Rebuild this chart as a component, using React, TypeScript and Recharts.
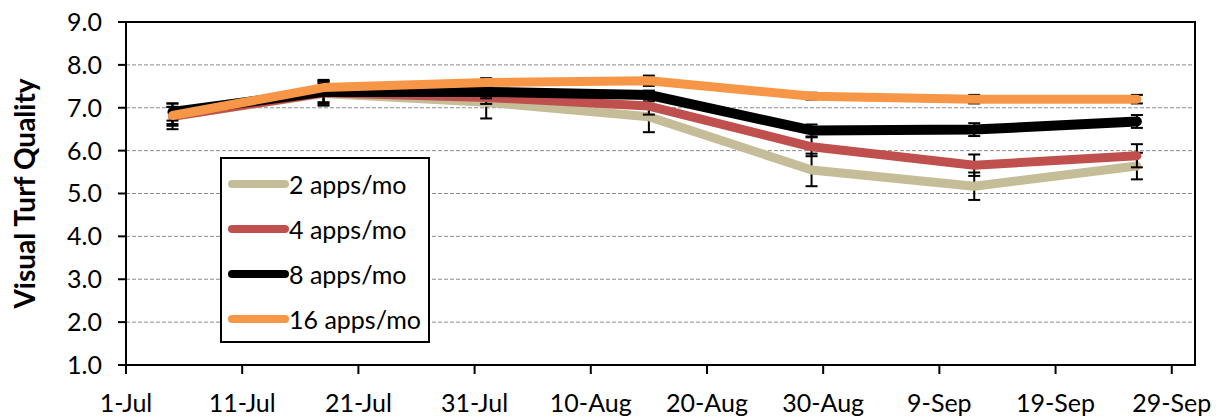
import React from 'react';
import {
  ComposedChart, Line, XAxis, YAxis, CartesianGrid, ErrorBar, Legend, ReferenceArea,
} from 'recharts';

// sampling dates and axis ticks
const dates = ['5-Jul', '18-Jul', '1-Aug', '15-Aug', '29-Aug', '12-Sep', '26-Sep'];
const xTickLabels = ['1-Jul', '11-Jul', '21-Jul', '31-Jul', '10-Aug', '20-Aug', '30-Aug', '9-Sep', '19-Sep', '29-Sep'];
const xEnd = '1-Oct';
const yTicks = [1, 2, 3, 4, 5, 6, 7, 8, 9];

// visual turf quality (mean) and error bar half-widths
const apps2 = [6.8, 7.33, 7.13, 6.79, 5.55, 5.17, 5.64];
const apps2Err = [0.3, 0.28, 0.38, 0.36, 0.38, 0.32, 0.31];
const apps4 = [6.8, 7.35, 7.24, 7.04, 6.09, 5.66, 5.88];
const apps4Err = [0.22, 0.22, 0.15, 0.2, 0.22, 0.25, 0.27];
const apps8 = [6.9, 7.37, 7.37, 7.3, 6.47, 6.49, 6.68];
const apps8Err = [0.2, 0.28, 0.15, 0.1, 0.14, 0.15, 0.15];
const apps16 = [6.82, 7.47, 7.59, 7.63, 7.27, 7.2, 7.2];
const apps16Err = [0.2, 0.15, 0.1, 0.12, 0.08, 0.1, 0.1];

const FONT = 'Lato, "Open Sans", sans-serif';

const monthStart: Record<string, number> = { Jul: 0, Aug: 31, Sep: 62, Oct: 92 };
const toDay = (s: string) => {
  const [d, m] = s.split('-');
  return monthStart[m] + Number(d) - 1;
};

const xTicks = xTickLabels.map(toDay);
const labelByDay: Record<number, string> = {};
xTickLabels.forEach((l) => { labelByDay[toDay(l)] = l; });

const data = dates.map((d, i) => ({
  day: toDay(d),
  a2: apps2[i], e2: apps2Err[i],
  a4: apps4[i], e4: apps4Err[i],
  a8: apps8[i], e8: apps8Err[i],
  a16: apps16[i], e16: apps16Err[i],
}));

const series = [
  { key: 'a2', err: 'e2', name: '2 apps/mo', color: '#C4BD97', width: 9 },
  { key: 'a4', err: 'e4', name: '4 apps/mo', color: '#C0504D', width: 9 },
  { key: 'a8', err: 'e8', name: '8 apps/mo', color: '#000000', width: 10 },
  { key: 'a16', err: 'e16', name: '16 apps/mo', color: '#F79646', width: 9 },
];

const LegendBox = () => (
  <div style={{ width: 206, height: 180, border: '2px solid #000', background: '#fff', paddingTop: 2 }}>
    {series.map((s) => (
      <div key={s.key} style={{ height: 45, display: 'flex', alignItems: 'center' }}>
        <svg width={67} height={14} style={{ flex: 'none' }}>
          <line x1={10} y1={7} x2={63} y2={7} stroke={s.color} strokeWidth={8} strokeLinecap="round" />
        </svg>
        <span style={{ fontFamily: FONT, fontSize: 25, color: '#000', whiteSpace: 'nowrap' }}>{s.name}</span>
      </div>
    ))}
  </div>
);

export default function App() {
  return (
    <div style={{ position: 'absolute', left: 0, top: 0, background: '#fff' }}>
      <ComposedChart width={1225} height={417} data={data} margin={{ top: 22, right: 30, bottom: 0, left: 0 }}>
        <CartesianGrid vertical={false} stroke="#8c8c8c" strokeDasharray="4 2" />
        <ReferenceArea x1={0} x2={toDay(xEnd)} y1={1} y2={9} fill="none" stroke="#000" strokeWidth={2} ifOverflow="visible" />
        <XAxis
          dataKey="day"
          type="number"
          domain={[0, toDay(xEnd)]}
          ticks={xTicks}
          tickFormatter={(v: number) => labelByDay[v] ?? ''}
          height={52}
          interval={0}
          tickSize={9}
          tickMargin={20}
          axisLine={{ stroke: '#000', strokeWidth: 2 }}
          tickLine={{ stroke: '#000', strokeWidth: 2 }}
          tick={{ fill: '#000', fontSize: 25, fontFamily: FONT }}
        />
        <YAxis
          domain={[1, 9]}
          ticks={yTicks}
          width={126}
          interval={0}
          tickSize={8}
          tickMargin={16}
          tickFormatter={(v: number) => v.toFixed(1)}
          axisLine={{ stroke: '#000', strokeWidth: 2 }}
          tickLine={{ stroke: '#000', strokeWidth: 2 }}
          tick={{ fill: '#000', fontSize: 25, fontFamily: FONT }}
          label={{
            value: 'Visual Turf Quality', angle: -90, position: 'center', dx: -38,
            style: { fontFamily: FONT, fontSize: 28, fontWeight: 700, fill: '#000' },
          }}
        />
        <Legend
          layout="vertical"
          align="center"
          verticalAlign="middle"
          content={() => <LegendBox />}
          wrapperStyle={{ left: 220, top: 157, width: 210, height: 184 }}
        />
        {series.map((s) => (
          <Line
            key={s.key}
            dataKey={s.key}
            name={s.name}
            type="linear"
            stroke={s.color}
            strokeWidth={s.width}
            strokeLinecap="round"
            strokeLinejoin="round"
            dot={false}
            activeDot={false}
            isAnimationActive={false}
          >
            <ErrorBar dataKey={s.err} direction="y" width={6} stroke="#000" strokeWidth={2} isAnimationActive={false} />
          </Line>
        ))}
      </ComposedChart>
    </div>
  );
}
